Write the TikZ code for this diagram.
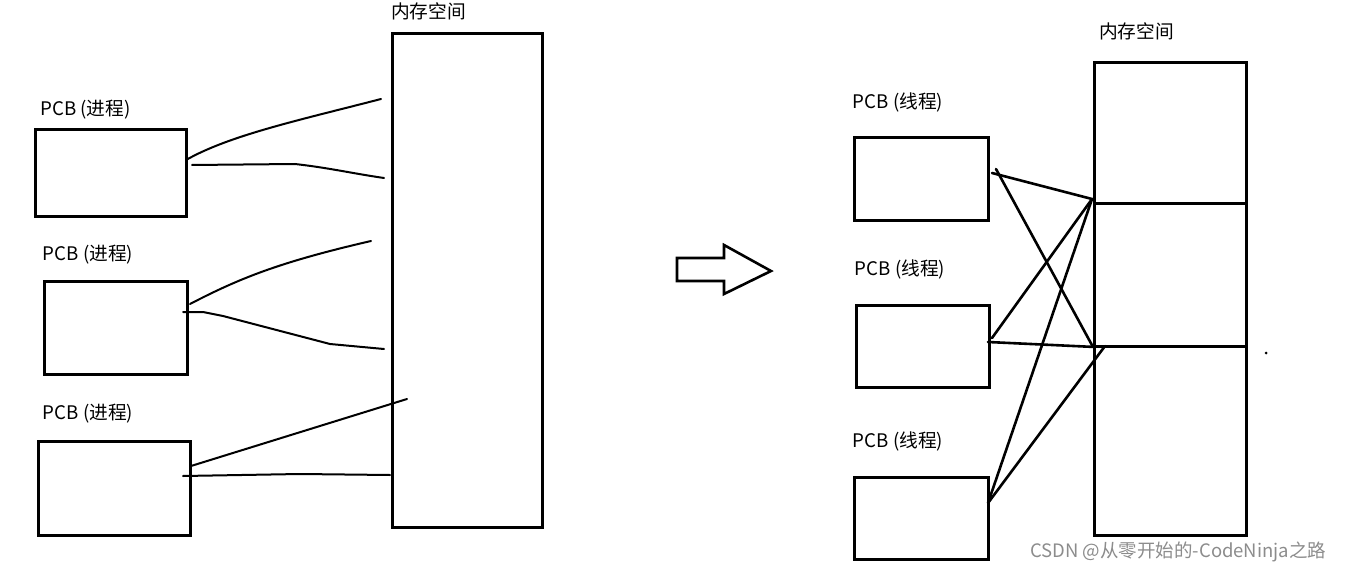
\documentclass[tikz,border=0pt]{standalone}
\usepackage{fontspec}
\setmainfont{Noto Sans CJK SC}
\begin{document}
\begin{tikzpicture}[x=1pt,y=-1pt,
  box/.style={draw,line width=2.6pt,anchor=north west,inner sep=0pt},
  wire/.style={line width=2pt,line join=round,line cap=round},
  xwire/.style={line width=2.6pt,line cap=round},
  lbl/.style={font=\fontsize{18.7}{20}\selectfont,inner sep=0pt}]
\useasboundingbox (0,0) rectangle (1351,572);
% left side
\node[box,minimum width=150pt,minimum height=494pt] (mem) at (391,32) {};
\node[lbl] (memlbl) at (428.5,11) {内存空间};
\node[box,minimum width=151pt,minimum height=87pt] (p1) at (34,128) {};
\node[box,minimum width=143pt,minimum height=93pt] (p2) at (43,280) {};
\node[box,minimum width=152pt,minimum height=94pt] (p3) at (37,440) {};
\node[lbl] (l1) at (85.5,110) {PCB (进程)};
\node[lbl] (l2) at (88,255) {PCB (进程)};
\node[lbl] (l3) at (88,414) {PCB (进程)};
\coordinate (a1) at (186,160); \coordinate (b1) at (381,99);
\coordinate (a2) at (192,165); \coordinate (b2) at (384,178);
\coordinate (a3) at (190,304); \coordinate (b3) at (371,241);
\coordinate (a4) at (183,312); \coordinate (b4) at (384,349);
\coordinate (a5) at (191,466); \coordinate (b5) at (407,399);
\coordinate (a6) at (183,476); \coordinate (b6) at (390,475);
\draw[wire] (a1) .. controls (230,135) and (300,120) .. (b1);
\draw[wire] (a2) -- (295,164) .. controls (330,168) and (350,173) .. (b2);
\draw[wire] (a3) .. controls (240,278) and (280,262) .. (b3);
\draw[wire] (a4) -- (203,312) -- (223,316) -- (330,344) -- (b4);
\draw[wire] (a5) -- (b5);
\draw[wire] (a6) -- (300,474) -- (b6);
% arrow
\draw[line width=2.6pt,line join=miter] (677,258) -- (724,258) -- (724,245) -- (771,271) -- (724,294) -- (724,281) -- (677,281) -- cycle;
% right side
\node[box,minimum width=152pt,minimum height=141pt] (m1) at (1093,61) {};
\node[box,minimum width=152pt,minimum height=143pt] (m2) at (1093,202) {};
\node[box,minimum width=152pt,minimum height=189pt] (m3) at (1093,345) {};
\node[lbl] (memlbl2) at (1136.5,31) {内存空间};
\node[box,minimum width=134pt,minimum height=83pt] (q1) at (853,136) {};
\node[box,minimum width=133pt,minimum height=82pt] (q2) at (855,304) {};
\node[box,minimum width=134pt,minimum height=82pt] (q3) at (853,476) {};
\node[lbl] (k1) at (898,102) {PCB (线程)};
\node[lbl] (k2) at (900,269) {PCB (线程)};
\node[lbl] (k3) at (898,441) {PCB (线程)};
\coordinate (c1) at (992,173); \coordinate (c1b) at (996,169);
\coordinate (c2) at (992,338); \coordinate (c2b) at (988,342);
\coordinate (c3) at (988,503);
\coordinate (t1) at (1092,199); \coordinate (t2) at (1093,347);
\coordinate (t3) at (1105,346); \coordinate (t4) at (1095,347);
\draw[xwire] (c1) -- (t1);
\draw[xwire] (c1b) -- (t2);
\draw[xwire] (c2) -- (t1);
\draw[xwire] (c3) -- (t1);
\draw[xwire] (c2b) -- (t4);
\draw[xwire] (c3) -- (t3);
\fill (1266,353) circle (1.5pt);
% watermark
\node[font=\fontsize{18.5}{20}\selectfont,text=black!45,inner sep=0pt,anchor=west] (wm) at (1030,552) {CSDN @从零开始的-CodeNinja之路};
\end{tikzpicture}
\end{document}
